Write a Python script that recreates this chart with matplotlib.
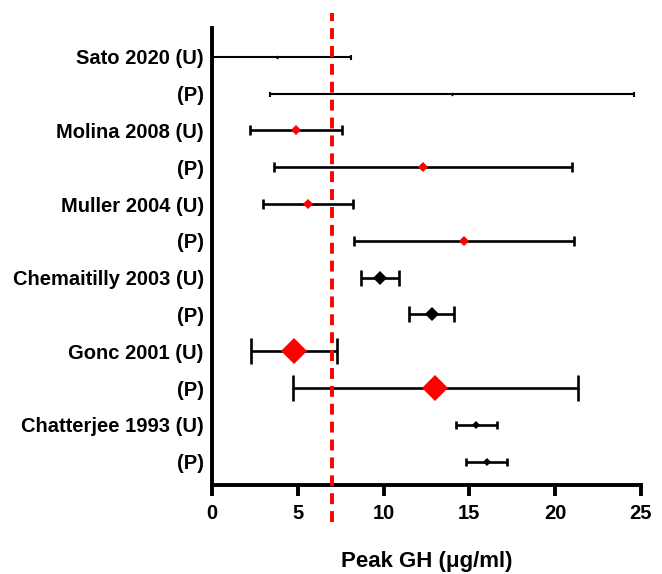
import matplotlib
matplotlib.use("Agg")
import matplotlib.pyplot as plt

plt.rcParams["font.family"] = ["Liberation Sans", "DejaVu Sans"]
plt.rcParams["font.weight"] = "bold"

# rows top to bottom
labels = ["Sato 2020 (U)", "(P)", "Molina 2008 (U)", "(P)", "Muller 2004 (U)", "(P)",
          "Chemaitilly 2003 (U)", "(P)", "Gonc 2001 (U)", "(P)", "Chatterjee 1993 (U)", "(P)"]
peak = [3.8, 14.0, 4.9, 12.3, 5.6, 14.7, 9.8, 12.8, 4.8, 13.0, 15.4, 16.0]
low = [0.0, 3.4, 2.2, 3.6, 3.0, 8.3, 8.7, 11.5, 2.3, 4.7, 14.2, 14.8]
high = [8.1, 24.6, 7.6, 21.0, 8.2, 21.1, 10.9, 14.1, 7.3, 21.3, 16.6, 17.2]
cutoff = 7

# one style per study (applies to its U and P rows)
# colour, marker size, cap size, line width
study_style = [
    ("black", 2.0, 1.8, 1.5),   # Sato
    ("red", 5.0, 3.6, 1.9),     # Molina
    ("red", 5.0, 3.6, 1.9),     # Muller
    ("black", 6.8, 5.6, 1.9),   # Chemaitilly
    ("red", 13.5, 9.4, 1.9),    # Gonc
    ("black", 4.3, 3.2, 1.9),   # Chatterjee
]

fig = plt.figure(figsize=(6.62, 5.74), dpi=100)
ax = fig.add_axes([212 / 662, 1 - 485 / 574, 429 / 662, 457 / 574])

for i in range(len(labels)):
    col, ms, cs, lw = study_style[i // 2]
    ax.errorbar(peak[i], i, xerr=[[peak[i] - low[i]], [high[i] - peak[i]]],
                fmt="none", ecolor="black", elinewidth=lw, capsize=cs,
                capthick=lw, zorder=3)
    ax.plot(peak[i], i, "D", color=col, ms=ms, mew=0, zorder=4)

ax.axvline(cutoff, ymin=-0.081, ymax=1.033, color="red", lw=2.8,
           dashes=(2.8, 1.8), clip_on=False, zorder=5)

ax.set_xlim(0, 25)
ax.set_ylim(11.63, -0.78)
ax.set_xticks([0, 5, 10, 15, 20, 25])
ax.set_yticks(range(len(labels)))
ax.set_yticklabels(labels)
ax.tick_params(axis="y", length=0, pad=6, labelsize=14.5)
ax.tick_params(axis="x", length=8, width=2.8, pad=6, labelsize=14.5)
for s in ["top", "right"]:
    ax.spines[s].set_visible(False)
for s in ["left", "bottom"]:
    ax.spines[s].set_linewidth(2.8)
ax.set_xlabel("Peak GH (\u03bcg/ml)", fontsize=16, fontweight="bold", labelpad=20)

fig.savefig("out.png", dpi=100)
